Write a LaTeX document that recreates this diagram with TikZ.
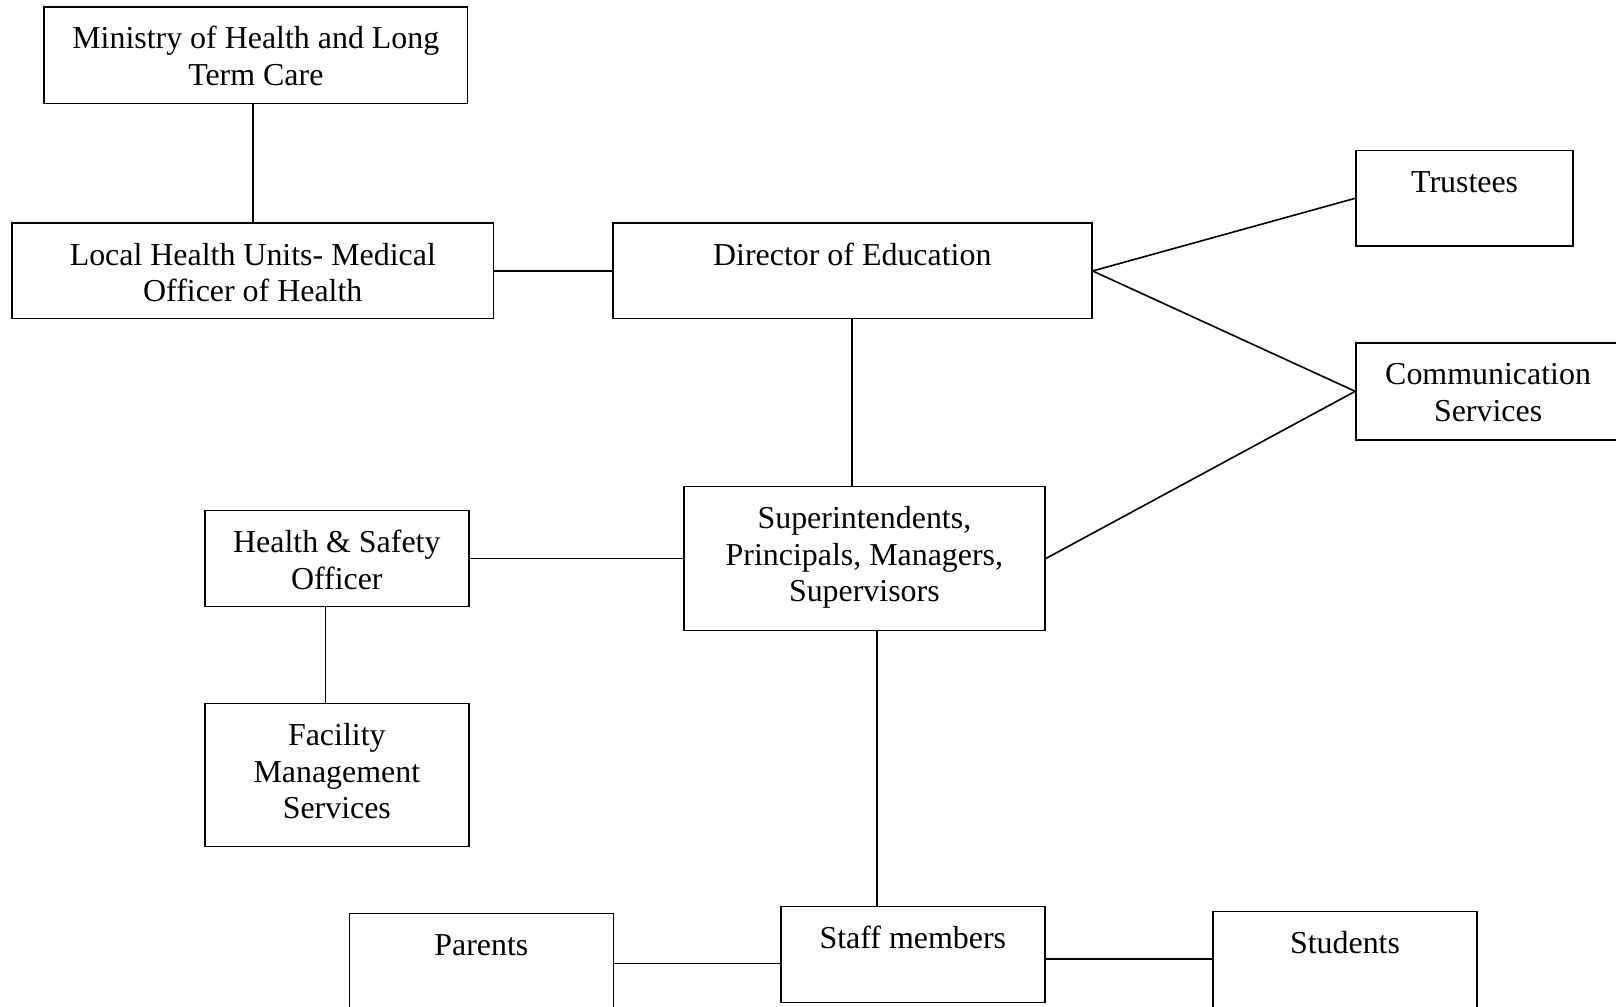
\documentclass[tikz,border=0pt]{standalone}
\usepackage{fontspec}
\setmainfont{Liberation Serif}
\usepackage{tikz}

\tikzset{
box/.style={draw, line width=0.6pt, minimum width=3.49cm, minimum height=1.27cm, inner sep=0pt},
lbl/.style={anchor=north, align=flush center, text width=6cm, inner sep=0pt, text height=9pt, yshift=-6.8pt, font=\fontsize{12}{13.8}\selectfont},
conn/.style={line width=0.6pt}
}

\begin{document}
\begin{tikzpicture}
\useasboundingbox (0,0) rectangle (21.35,13.3);
\clip (0,0) rectangle (21.35,13.3);

\node[box, minimum width=5.59cm, label={[lbl]north:{Ministry of Health and Long\\Term Care}}] (ms) at (3.38,12.57) {};
\node[box, minimum width=6.36cm, minimum height=1.26cm, label={[lbl]north:{Local Health Units- Medical\\Officer of Health}}] (lhu) at (3.34,9.72) {};
\node[box, minimum width=6.33cm, minimum height=1.26cm, label={[lbl]north:{Director of Education}}] (dir) at (11.26,9.72) {};
\node[box, minimum width=2.87cm, minimum height=1.26cm, label={[lbl]north:{Trustees}}] (tru) at (19.35,10.68) {};
\node[box, minimum height=1.28cm, label={[lbl]north:{Communication\\Services}}] (com) at (19.66,8.13) {};
\node[box, minimum width=4.77cm, minimum height=1.9cm, label={[lbl]north:{Superintendents,\\Principals, Managers,\\Supervisors}}] (sup) at (11.42,5.92) {};
\node[box, label={[lbl]north:{Health \& Safety\\Officer}}] (hs) at (4.45,5.92) {};
\node[box, minimum height=1.89cm, label={[lbl]north:{Facility\\Management\\Services}}] (fm) at (4.45,3.06) {};
\node[box, minimum height=1.32cm, label={[lbl]north:{Parents}}] (par) at (6.36,0.57) {};
\node[box, label={[lbl]north:{Staff members}}] (stf) at (12.06,0.69) {};
\node[box, minimum height=1.32cm, label={[lbl]north:{Students}}] (stu) at (17.77,0.6) {};

\draw[conn] (lhu.north |- ms.south) -- (lhu.north);
\draw[conn] (lhu.east) -- (dir.west);
\draw[conn] (dir.east) -- (tru.west);
\draw[conn] (dir.east) -- (com.west);
\draw[conn] (sup.east) -- (com.west);
\draw[conn] (dir.south) -- (dir.south |- sup.north);
\draw[conn] (hs.east) -- (sup.west);
\draw[conn] ([xshift=-0.15cm]hs.south) -- ([xshift=-0.15cm]fm.north);
\draw[conn] ([xshift=0.17cm]sup.south) -- ([xshift=0.17cm]sup.south |- stf.north);
\draw[conn] (par.east) -- (par.east -| stf.west);
\draw[conn] ([yshift=-0.06cm]stf.east) -- ([yshift=-0.06cm]stf.east -| stu.west);
\end{tikzpicture}
\end{document}
